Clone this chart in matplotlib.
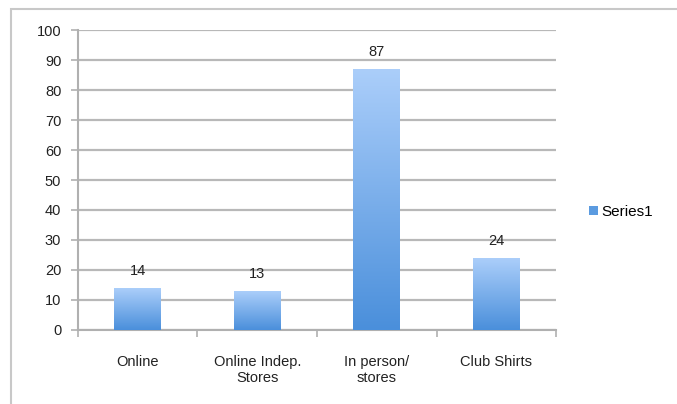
import matplotlib.pyplot as plt
import numpy as np
from matplotlib.colors import LinearSegmentedColormap
from matplotlib.patches import Patch, Rectangle

categories = ["Online", "Online Indep.\nStores", "In person/\nstores", "Club Shirts"]
values = [14, 13, 87, 24]
series_name = "Series1"

plt.rcParams['font.family'] = ['Liberation Sans', 'DejaVu Sans']

fig = plt.figure(figsize=(6.77, 4.04), dpi=100)
ax = fig.add_axes([0.1152, 0.1832, 0.7061, 0.7425])

# outer chart frame (runs off the right and bottom edges)
fig.patches.append(Rectangle((11 / 677, -0.1), 1.2, (404 - 9) / 404 + 0.1,
                             transform=fig.transFigure, fill=False,
                             edgecolor="#c8c8c8", linewidth=1.5))

grad = LinearSegmentedColormap.from_list("bar", ["#4a8fdb", "#abcefa"])
width = 0.39
x = np.arange(len(values))
bars = ax.bar(x, values, width=width, color="none", zorder=3)
g = np.linspace(0, 1, 256).reshape(-1, 1)
for b in bars:
    x0, w, h = b.get_x(), b.get_width(), b.get_height()
    ax.imshow(g, cmap=grad, origin="lower", aspect="auto",
              extent=[x0, x0 + w, 0, h], zorder=3)
    ax.text(x0 + w / 2, h + 3.3, str(int(h)), ha="center", va="bottom",
            fontsize=10.5, color="#222222", zorder=4)

ax.set_xlim(-0.5, len(values) - 0.5)
ax.set_ylim(0, 100)
ax.set_yticks(range(0, 101, 10))
ax.yaxis.grid(True, color="#b8b8b8", linewidth=1.6)
ax.set_axisbelow(True)

ax.set_xticks(x)
ax.set_xticklabels(categories, fontsize=10.5, color="#222222")
ax.set_xticks(np.arange(-0.5, len(values) + 0.5, 1), minor=True)
ax.tick_params(axis="x", which="major", length=0, pad=18)
ax.tick_params(axis="x", which="minor", length=5, color="#b0b0b0", width=1.2)
ax.tick_params(axis="y", length=5, color="#b0b0b0", width=1.2, labelsize=10.5,
               labelcolor="#222222", pad=7)

for s in ["top", "right"]:
    ax.spines[s].set_visible(False)
for s in ["left", "bottom"]:
    ax.spines[s].set_color("#b0b0b0")
    ax.spines[s].set_linewidth(1.5)

handle = Patch(facecolor="#5b9be0", edgecolor="none")
fig.legend([handle], [series_name], loc="center left",
           bbox_to_anchor=(583 / 677, 1 - 212 / 404), frameon=False,
           handlelength=0.55, handleheight=0.55, handletextpad=0.25,
           fontsize=11, borderaxespad=0)

fig.savefig("out.png", dpi=100)
